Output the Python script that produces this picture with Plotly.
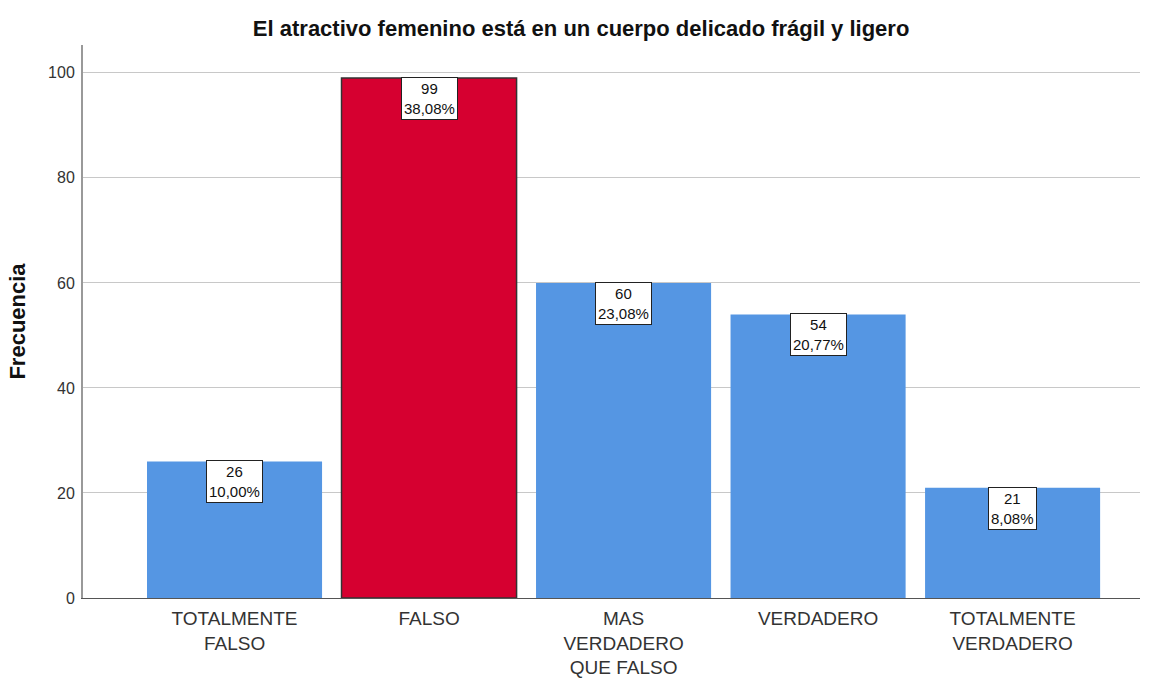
import plotly.graph_objects as go

categories = ["TOTALMENTE<br>FALSO", "FALSO", "MAS<br>VERDADERO<br>QUE FALSO", "VERDADERO", "TOTALMENTE<br>VERDADERO"]
frequencies = [26, 99, 60, 54, 21]
percent_labels = ["10,00%", "38,08%", "23,08%", "20,77%", "8,08%"]
y_ticks = [0, 20, 40, 60, 80, 100]
highlight = "FALSO"

BLUE = "#5596e3"
RED = "#d60030"
FONT = "Liberation Sans, Arial, sans-serif"

x_pos = list(range(len(categories)))
colors = [RED if c == highlight else BLUE for c in categories]
line_w = [1.5 if c == highlight else 0 for c in categories]

fig = go.Figure()
fig.add_trace(go.Bar(
    x=x_pos, y=frequencies, width=0.9,
    marker=dict(color=colors, line=dict(color="#333333", width=line_w)),
    hoverinfo="skip",
))

for xi, v, p in zip(x_pos, frequencies, percent_labels):
    fig.add_annotation(
        x=xi, y=v, text=f"{v}<br>{p}", showarrow=False,
        yanchor="top", xanchor="center", yshift=1,
        bgcolor="white", bordercolor="#222222", borderwidth=1, borderpad=2,
        font=dict(family=FONT, size=15, color="#111111"),
    )

fig.update_layout(
    width=1153, height=680,
    margin=dict(l=83, r=13, t=45, b=82),
    paper_bgcolor="white", plot_bgcolor="white",
    showlegend=False,
    title=dict(text="<b>El atractivo femenino está en un cuerpo delicado frágil y ligero</b>",
               x=0.504, xanchor="center", y=0.959, yanchor="middle",
               font=dict(family=FONT, size=22, color="#111111")),
    xaxis=dict(
        range=[-0.779, 4.655], tickvals=x_pos, ticktext=categories,
        showgrid=False, zeroline=False, showline=True, linecolor="#555555", linewidth=1,
        ticks="", ticklabelstandoff=3, automargin=False,
        tickfont=dict(family=FONT, size=19, color="#333333"),
    ),
    yaxis=dict(
        range=[0, 105.3], tickvals=y_ticks,
        showgrid=True, gridcolor="#c8c8c8", gridwidth=1,
        zeroline=False, showline=True, linecolor="#999999", linewidth=2,
        ticks="", ticklabelstandoff=3, automargin=False,
        tickfont=dict(family=FONT, size=16, color="#333333"),
        title=dict(text="<b>Frecuencia</b>", standoff=16,
                   font=dict(family=FONT, size=22, color="#111111")),
    ),
)

fig.write_html("out.html", config={"displayModeBar": False},
               post_script="document.body.style.margin='0';")
